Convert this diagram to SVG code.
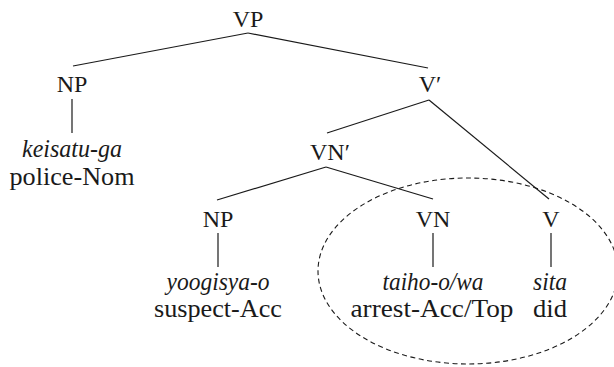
<svg xmlns="http://www.w3.org/2000/svg" width="614" height="367" viewBox="0 0 614 367" font-family="Liberation Serif, serif" font-size="24">
  <style>
    text { fill: #1a1a1a; text-anchor: middle; }
    .it { font-style: italic; }
    .leaf { font-size: 25px; }
    .edge { stroke: #1a1a1a; stroke-width: 1.2; fill: none; }
    .ring { stroke: #1a1a1a; stroke-width: 1.1; fill: none; stroke-dasharray: 5 3.5; }
  </style>
  <rect width="614" height="367" fill="#ffffff"/>

  <!-- tree branches -->
  <g id="connectors">
    <line class="edge" x1="248" y1="33" x2="73" y2="66"/>
    <line class="edge" x1="248" y1="33" x2="428" y2="68"/>
    <line class="edge" x1="72" y1="99" x2="72" y2="133"/>
    <line class="edge" x1="429" y1="100" x2="327" y2="133"/>
    <line class="edge" x1="429" y1="100" x2="549" y2="199"/>
    <line class="edge" x1="326" y1="167" x2="217" y2="200"/>
    <line class="edge" x1="326" y1="167" x2="433" y2="199"/>
    <line class="edge" x1="218" y1="233" x2="218" y2="267"/>
    <line class="edge" x1="433" y1="233" x2="433" y2="267"/>
    <line class="edge" x1="551" y1="233" x2="551" y2="267"/>
  </g>

  <!-- dashed grouping around the verbal complex -->
  <ellipse id="grouping" class="ring" cx="468" cy="271" rx="150" ry="93"/>

  <g id="node-vp"><text x="248" y="27">VP</text></g>
  <g id="node-np-subj"><text x="72" y="92">NP</text></g>
  <g id="node-vbar"><text x="430" y="92">V′</text></g>
  <g id="leaf-subj" class="leaf">
    <text class="it" x="72" y="157" textLength="100" lengthAdjust="spacingAndGlyphs">keisatu-ga</text>
    <text x="72" y="185" textLength="125" lengthAdjust="spacingAndGlyphs">police-Nom</text>
  </g>
  <g id="node-vnbar"><text x="330" y="160">VN′</text></g>
  <g id="node-np-obj"><text x="218" y="227">NP</text></g>
  <g id="node-vn"><text x="433" y="227">VN</text></g>
  <g id="node-v"><text x="551" y="227">V</text></g>
  <g id="leaf-obj" class="leaf">
    <text class="it" x="218" y="290" textLength="103" lengthAdjust="spacingAndGlyphs">yoogisya-o</text>
    <text x="218" y="317" textLength="128" lengthAdjust="spacingAndGlyphs">suspect-Acc</text>
  </g>
  <g id="leaf-vn" class="leaf">
    <text class="it" x="433" y="290" textLength="101" lengthAdjust="spacingAndGlyphs">taiho-o/wa</text>
    <text x="432" y="317" textLength="163" lengthAdjust="spacingAndGlyphs">arrest-Acc/Top</text>
  </g>
  <g id="leaf-v" class="leaf">
    <text class="it" x="550" y="290" textLength="34" lengthAdjust="spacingAndGlyphs">sita</text>
    <text x="550" y="317" textLength="34" lengthAdjust="spacingAndGlyphs">did</text>
  </g>
</svg>
